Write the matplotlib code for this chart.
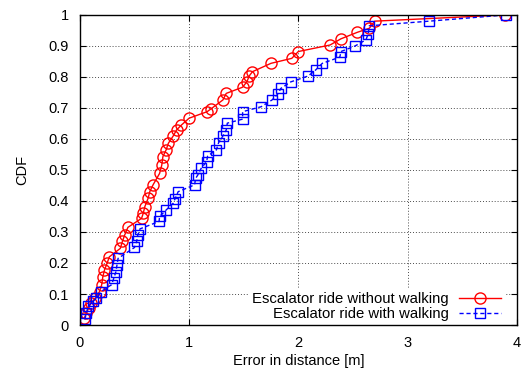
import matplotlib

matplotlib.use("Agg")

import matplotlib.pyplot as plt

plt.rcParams["font.family"] = ["Liberation Sans", "DejaVu Sans"]

# CDF points (error in metres, cumulative fraction)
no_walk_err = [0.04, 0.06, 0.08, 0.10, 0.14, 0.18, 0.20, 0.21, 0.225, 0.25,
               0.27, 0.37, 0.39, 0.41, 0.44, 0.565, 0.58, 0.595, 0.625, 0.64,
               0.67, 0.73, 0.75, 0.76, 0.79, 0.81, 0.855, 0.885, 0.93, 1.0,
               1.165, 1.20, 1.31, 1.34, 1.49, 1.53, 1.55, 1.58, 1.75, 1.94,
               2.0, 2.29, 2.39, 2.54, 2.65, 2.70, 3.89]
no_walk_cdf = [0.022, 0.038, 0.054, 0.07, 0.086, 0.108, 0.13, 0.155, 0.177, 0.20,
               0.22, 0.247, 0.27, 0.29, 0.315, 0.344, 0.36, 0.382, 0.409, 0.43,
               0.452, 0.489, 0.516, 0.543, 0.565, 0.586, 0.61, 0.629, 0.645, 0.667,
               0.688, 0.697, 0.726, 0.747, 0.767, 0.785, 0.803, 0.817, 0.844, 0.86,
               0.882, 0.903, 0.923, 0.944, 0.957, 0.98, 1.0]

walk_err = [0.045, 0.06, 0.075, 0.12, 0.15, 0.195, 0.29, 0.31, 0.33, 0.34,
            0.35, 0.50, 0.52, 0.53, 0.55, 0.725, 0.73, 0.79, 0.855, 0.87,
            0.90, 1.05, 1.06, 1.08, 1.11, 1.16, 1.17, 1.25, 1.27, 1.31,
            1.34, 1.35, 1.49, 1.49, 1.66, 1.76, 1.81, 1.84, 1.93, 2.09,
            2.16, 2.22, 2.38, 2.39, 2.52, 2.62, 2.64, 2.65, 3.20, 3.90]
walk_cdf = [0.018, 0.038, 0.06, 0.076, 0.086, 0.108, 0.13, 0.15, 0.172, 0.194,
            0.215, 0.25, 0.27, 0.29, 0.31, 0.334, 0.35, 0.371, 0.393, 0.406,
            0.43, 0.452, 0.473, 0.484, 0.505, 0.527, 0.545, 0.565, 0.588, 0.61,
            0.629, 0.651, 0.664, 0.688, 0.704, 0.726, 0.744, 0.763, 0.784, 0.803,
            0.823, 0.844, 0.864, 0.882, 0.90, 0.92, 0.94, 0.965, 0.98, 1.0]

x_ticks = [0, 1, 2, 3, 4]
y_ticks = [0, 0.1, 0.2, 0.3, 0.4, 0.5, 0.6, 0.7, 0.8, 0.9, 1]

fig = plt.figure(figsize=(5.22, 3.7), dpi=100)
ax = fig.add_axes([0.153, 0.1216, 0.837, 0.838])

ax.plot(no_walk_err, no_walk_cdf, color="red", linewidth=1.0, marker="o",
        markersize=8, markerfacecolor="none", markeredgewidth=1.0,
        label="Escalator ride without walking")
ax.plot(walk_err, walk_cdf, color="blue", linewidth=1.0, linestyle=(0, (3, 2)),
        marker="s", markersize=7, markerfacecolor="none", markeredgewidth=1.0,
        label="Escalator ride with walking")

ax.set_xlim(0, 4)
ax.set_ylim(0, 1)
ax.set_xticks(x_ticks)
ax.set_xticklabels([str(t) for t in x_ticks])
ax.set_yticks(y_ticks)
ax.set_yticklabels(["0"] + [f"{t:.1f}" for t in y_ticks[1:-1]] + ["1"])
ax.tick_params(direction="in", top=True, right=True, length=4, labelsize=10.5)
ax.tick_params(axis="x", pad=8)
ax.tick_params(axis="y", pad=8)
ax.grid(True, color="black", linestyle=(0, (1, 2)), linewidth=0.7, alpha=0.7)
for s in ax.spines.values():
    s.set_linewidth(1.0)

ax.set_xlabel("Error in distance [m]", fontsize=10.5, labelpad=3)
ax.set_ylabel("CDF", fontsize=10.5, labelpad=14)

leg = ax.legend(loc="lower right", bbox_to_anchor=(0.972, 0.0),
                markerfirst=False, fontsize=10.7,
                handlelength=2.8, handletextpad=0.7, labelspacing=0.1,
                borderpad=0.25, borderaxespad=0.0, frameon=True,
                fancybox=False)
leg.get_frame().set_facecolor("white")
leg.get_frame().set_edgecolor("none")
leg.get_frame().set_alpha(1.0)
leg.set_zorder(2)
for t in leg.get_texts():
    t.set_ha("right")

fig.savefig("out.png", dpi=100)
